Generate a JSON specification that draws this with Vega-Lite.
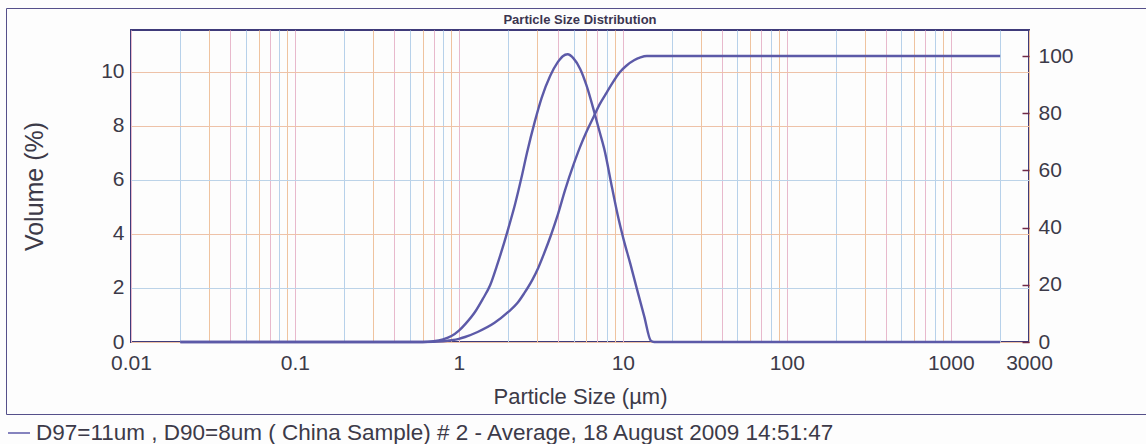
{
  "$schema": "https://vega.github.io/schema/vega-lite/v6.json",
  "width": 898,
  "height": 312,
  "autosize": {"type": "none"},
  "padding": {"left": 131, "top": 30, "right": 117, "bottom": 102},
  "background": "#fdfdfd",
  "title": {"text": "Particle Size Distribution", "fontSize": 13, "fontWeight": "bold", "color": "#3b3550", "anchor": "middle", "offset": -19, "font": "Liberation Sans"},
  "datasets": {
    "freq": [
      {"size": 0.02, "volume": 0}, {"size": 0.1, "volume": 0}, {"size": 0.3, "volume": 0}, {"size": 0.6, "volume": 0},
      {"size": 0.7, "volume": 0.03}, {"size": 0.8, "volume": 0.1}, {"size": 0.9, "volume": 0.22}, {"size": 1.0, "volume": 0.42},
      {"size": 1.1, "volume": 0.68}, {"size": 1.25, "volume": 1.1}, {"size": 1.4, "volume": 1.6}, {"size": 1.55, "volume": 2.1},
      {"size": 1.7, "volume": 2.8}, {"size": 1.85, "volume": 3.5}, {"size": 2.0, "volume": 4.2}, {"size": 2.2, "volume": 5.1},
      {"size": 2.4, "volume": 6.05}, {"size": 2.6, "volume": 7.0}, {"size": 2.9, "volume": 8.15}, {"size": 3.2, "volume": 9.05},
      {"size": 3.6, "volume": 9.85}, {"size": 4.0, "volume": 10.35}, {"size": 4.3, "volume": 10.58}, {"size": 4.6, "volume": 10.65},
      {"size": 5.0, "volume": 10.5}, {"size": 5.5, "volume": 10.1}, {"size": 6.0, "volume": 9.5}, {"size": 6.7, "volume": 8.5},
      {"size": 7.2, "volume": 7.8}, {"size": 7.7, "volume": 7.15}, {"size": 8.6, "volume": 5.7}, {"size": 9.3, "volume": 4.7},
      {"size": 10.1, "volume": 3.8}, {"size": 11.1, "volume": 2.9}, {"size": 12.2, "volume": 1.95}, {"size": 13.5, "volume": 0.95},
      {"size": 14.8, "volume": 0.05}, {"size": 15.5, "volume": 0}, {"size": 50, "volume": 0}, {"size": 500, "volume": 0},
      {"size": 2000, "volume": 0}
    ],
    "cum": [
      {"size": 0.02, "cumulative": 0}, {"size": 0.1, "cumulative": 0}, {"size": 0.3, "cumulative": 0}, {"size": 0.6, "cumulative": 0},
      {"size": 0.7, "cumulative": 0.05}, {"size": 0.8, "cumulative": 0.25}, {"size": 0.9, "cumulative": 0.6}, {"size": 1.0, "cumulative": 1.1},
      {"size": 1.09, "cumulative": 1.75}, {"size": 1.3, "cumulative": 3.5}, {"size": 1.65, "cumulative": 6.7}, {"size": 2.0, "cumulative": 10.5},
      {"size": 2.28, "cumulative": 13.7}, {"size": 2.5, "cumulative": 17}, {"size": 2.81, "cumulative": 21.8}, {"size": 3.05, "cumulative": 26},
      {"size": 3.32, "cumulative": 31.2}, {"size": 3.65, "cumulative": 37.5}, {"size": 3.98, "cumulative": 43.9}, {"size": 4.45, "cumulative": 53.3},
      {"size": 5.0, "cumulative": 62}, {"size": 5.5, "cumulative": 68.4}, {"size": 6.0, "cumulative": 73.5}, {"size": 6.67, "cumulative": 79},
      {"size": 7.2, "cumulative": 83}, {"size": 8.0, "cumulative": 87.4}, {"size": 8.8, "cumulative": 91.3}, {"size": 9.6, "cumulative": 94.4},
      {"size": 10.5, "cumulative": 96.6}, {"size": 11.7, "cumulative": 98.5}, {"size": 12.8, "cumulative": 99.5}, {"size": 14.0, "cumulative": 100},
      {"size": 50, "cumulative": 100}, {"size": 500, "cumulative": 100}, {"size": 2000, "cumulative": 100}
    ]
  },
  "layer": [
    {
      "data": {"name": "freq"},
      "mark": {"type": "line", "strokeWidth": 2.4, "interpolate": "monotone"},
      "encoding": {
        "x": {
          "field": "size", "type": "quantitative",
          "scale": {"type": "log", "domain": [0.01, 3000], "nice": false},
          "axis": {
            "values": [0.01, 0.02, 0.03, 0.04, 0.05, 0.06, 0.07, 0.08, 0.09, 0.1, 0.2, 0.3, 0.4, 0.5, 0.6, 0.7, 0.8, 0.9, 1, 2, 3, 4, 5, 6, 7, 8, 9, 10, 20, 30, 40, 50, 60, 70, 80, 90, 100, 200, 300, 400, 500, 600, 700, 800, 900, 1000, 2000, 3000],
            "format": "~g",
            "labelExpr": "indexof([0.01, 0.1, 1, 10, 100, 1000, 3000], datum.value) >= 0 ? datum.label : ''",
            "labelOverlap": false, "labelFlush": false, "labelBound": false,
            "grid": true,
            "gridColor": {
              "condition": [
                {"test": "round(datum.value / pow(10, floor(log(datum.value) / LN10 + 0.000001))) % 3 == 0", "value": "#efc39f"},
                {"test": "round(datum.value / pow(10, floor(log(datum.value) / LN10 + 0.000001))) % 3 == 1", "value": "#e8b9cc"}
              ],
              "value": "#b7d1ea"
            },
            "gridWidth": 1,
            "ticks": false, "domain": false,
            "labelFontSize": 21, "labelPadding": 10, "labelColor": "#3c3a48", "labelFont": "Liberation Sans",
            "title": "Particle Size (µm)", "titleFontSize": 22, "titleFontWeight": "normal", "titleColor": "#3c3a48", "titleFont": "Liberation Sans", "titlePadding": 13
          }
        },
        "y": {
          "field": "volume", "type": "quantitative",
          "scale": {"domain": [0, 11.55], "nice": false},
          "axis": {
            "values": [0, 2, 4, 6, 8, 10],
            "grid": true,
            "gridColor": {"condition": {"test": "datum.value == 2 || datum.value == 6", "value": "#bcd3e8"}, "value": "#eec2a8"},
            "ticks": false, "domain": false,
            "labelFontSize": 21, "labelPadding": 7, "labelColor": "#3c3a48", "labelFont": "Liberation Sans",
            "title": "Volume (%)", "titleFontSize": 25, "titleFontWeight": "normal", "titleColor": "#3c3a48", "titleFont": "Liberation Sans", "titlePadding": 53
          }
        },
        "color": {
          "datum": "D97=11um , D90=8um ( China Sample) # 2 - Average, 18 August 2009 14:51:47",
          "type": "nominal",
          "scale": {"range": ["#5c5aa8"]},
          "legend": {
            "orient": "none", "legendX": -131, "legendY": 384, "direction": "horizontal", "title": null,
            "symbolType": "stroke", "symbolSize": 484, "symbolStrokeWidth": 1.5,
            "labelFontSize": 22.5, "labelLimit": 3000, "labelOffset": 5, "labelColor": "#3c3a48", "labelFont": "Liberation Sans",
            "padding": 7
          }
        },
        "opacity": {
          "datum": "frame",
          "type": "nominal",
          "scale": {"range": [1]},
          "legend": {
            "orient": "none", "legendX": -125, "legendY": -22, "direction": "horizontal",
            "title": "\u00a0", "titleOrient": "right", "titlePadding": 770, "titleFontSize": 1,
            "symbolType": "M0,-1V1", "symbolSize": 164836, "symbolStrokeWidth": 0,
            "symbolStrokeColor": "transparent", "symbolFillColor": "transparent",
            "labelExpr": "''", "labelOffset": 0, "labelFontSize": 1,
            "padding": 0, "strokeColor": "#55508a"
          }
        }
      }
    },
    {
      "data": {"name": "cum"},
      "mark": {"type": "line", "strokeWidth": 2.4, "interpolate": "monotone"},
      "encoding": {
        "x": {"field": "size", "type": "quantitative"},
        "y": {
          "field": "cumulative", "type": "quantitative",
          "scale": {"domain": [0, 109.1], "nice": false},
          "axis": {
            "orient": "right",
            "values": [0, 20, 40, 60, 80, 100],
            "grid": false, "domain": false,
            "ticks": true, "tickSize": -7, "tickColor": "#702a48", "tickWidth": 1.5,
            "labelFontSize": 21, "labelPadding": 16, "labelColor": "#3c3a48", "labelFont": "Liberation Sans",
            "title": null
          }
        },
        "color": {"datum": "D97=11um , D90=8um ( China Sample) # 2 - Average, 18 August 2009 14:51:47", "type": "nominal"}
      }
    }
  ],
  "resolve": {"scale": {"y": "independent"}},
  "config": {
    "view": {"stroke": "#3f3b7a", "strokeWidth": 2},
    "font": "Liberation Sans"
  }
}
